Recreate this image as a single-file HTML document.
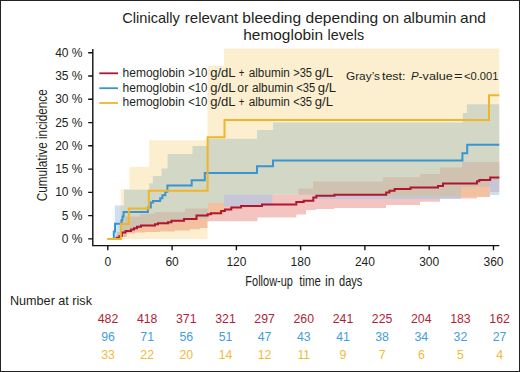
<!DOCTYPE html>
<html><head><meta charset="utf-8"><style>
html,body{margin:0;padding:0;background:#fff;}
svg{display:block;}
</style></head><body>
<svg width="520" height="372" viewBox="0 0 520 372">
<rect x="0" y="0" width="520" height="372" fill="#fff"/>
<path d="M107.8,238.9H116.7V232.0H121.5V222.0H125.0V216.5H140.0V213.8H155.0V212.0H185.0V208.5H208.0V203.0H224.0V194.5H298.5V188.5H313.0V181.5H383.0V177.2H420.0V174.0H440.0V167.5H462.0V162.0H499.3V192.0H490.0V197.0H477.0V198.5H440.0V201.7H420.0V205.0H386.0V208.0H334.0V209.0H316.0V210.0H306.0V214.4H296.3V217.5H257.5V221.3H207.5V228.0H200.0V229.2H190.0V230.5H175.0V231.5H160.0V232.0H145.0V232.5H135.0V233.5H127.0V237.0H121.5V238.9H107.8Z" fill="#dc3c32" fill-opacity="0.30"/>
<path d="M107.8,238.9H114.8V205.6H124.0V189.7H149.2V183.3H152.8V176.0H161.5V168.5H167.6V153.9H192.5V146.0H207.5V138.8H257.0V130.0H273.0V122.4H462.8V113.0H466.9V104.2H499.3V195.0H490.0V187.0H461.0V199.0H313.0V194.5H272.3V206.5H224.0V203.0H208.0V218.5H197.0V220.0H185.0V222.0H170.0V224.5H155.0V226.5H140.0V229.0H133.0V232.0H126.0V236.0H121.4V238.9H107.8Z" fill="#a1c8e8" fill-opacity="0.55"/>
<path d="M107.8,238.9H120.7V189.0H129.4V166.7H149.2V140.3H207.5V65.8H224.0V48.6H499.3V180.0H489.0V197.0H461.0V196.0H330.0V194.5H224.0V215.0H207.5V238.9H107.8Z" fill="#f2b428" fill-opacity="0.22"/>
<path d="M107.8,238.9H116.7V237.8H119.5V236.0H121.8V232.5H125.5V231.0H128.0V231.0H131.0V229.5H134.0V228.2H137.0V226.8H141.0V225.4H155.0V224.2H158.0V223.2H168.0V222.2H171.5V220.8H184.0V219.0H196.5V215.5H207.7V214.3H210.9V213.3H221.1V211.1H224.9V209.5H231.3V207.4H241.0V205.9H250.0V205.9H262.0V204.6H296.3V202.1H303.7V200.7H313.3V197.5H316.4V195.8H334.4V194.8H386.2V192.4H389.4V190.7H394.6V189.0H410.5V187.5H438.0V186.0H443.0V183.6H477.0V181.2H479.3V180.0H490.2V177.5H499.3" fill="none" stroke="#b0172f" stroke-width="2"/>
<path d="M107.8,238.9H113.8V231.6H115.0V223.7H121.4V220.3H122.5V216.4H123.6V211.9H147.9V207.6H150.8V202.5H153.0V201.0H160.2V198.2H162.4V195.3H165.3V191.7H167.4V185.6H191.7V180.2H204.8V172.9H257.0V166.3H273.0V160.5H462.4V153.3H467.2V144.8H499.3" fill="none" stroke="#3a94cf" stroke-width="2"/>
<path d="M107.8,238.9H120.8V224.0H128.8V208.5H148.8V190.8H207.6V137.3H224.5V120.0H489.0V95.2H499.3" fill="none" stroke="#f0b62a" stroke-width="2"/>
<path d="M92.8,49V245.6H499.3" fill="none" stroke="#111" stroke-width="1.4"/>
<path d="M88.2,238.9H92.8M88.2,215.6H92.8M88.2,192.4H92.8M88.2,169.1H92.8M88.2,145.8H92.8M88.2,122.6H92.8M88.2,99.3H92.8M88.2,76.0H92.8M88.2,52.7H92.8M107.8,245.6V250.3M172.1,245.6V250.3M236.4,245.6V250.3M300.6,245.6V250.3M364.9,245.6V250.3M429.2,245.6V250.3M493.5,245.6V250.3" stroke="#111" stroke-width="1.4"/>
<text x="82.5" y="242.8" text-anchor="end" font-size="12" fill="#231f20" font-family="Liberation Sans, sans-serif" >0 %</text>
<text x="82.5" y="219.5" text-anchor="end" font-size="12" fill="#231f20" font-family="Liberation Sans, sans-serif" >5 %</text>
<text x="82.5" y="196.3" text-anchor="end" font-size="12" fill="#231f20" font-family="Liberation Sans, sans-serif" >10 %</text>
<text x="82.5" y="173.0" text-anchor="end" font-size="12" fill="#231f20" font-family="Liberation Sans, sans-serif" >15 %</text>
<text x="82.5" y="149.7" text-anchor="end" font-size="12" fill="#231f20" font-family="Liberation Sans, sans-serif" >20 %</text>
<text x="82.5" y="126.5" text-anchor="end" font-size="12" fill="#231f20" font-family="Liberation Sans, sans-serif" >25 %</text>
<text x="82.5" y="103.2" text-anchor="end" font-size="12" fill="#231f20" font-family="Liberation Sans, sans-serif" >30 %</text>
<text x="82.5" y="79.9" text-anchor="end" font-size="12" fill="#231f20" font-family="Liberation Sans, sans-serif" >35 %</text>
<text x="82.5" y="56.6" text-anchor="end" font-size="12" fill="#231f20" font-family="Liberation Sans, sans-serif" >40 %</text>
<text x="107.8" y="265.8" text-anchor="middle" font-size="12" fill="#231f20" font-family="Liberation Sans, sans-serif" >0</text>
<text x="172.1" y="265.8" text-anchor="middle" font-size="12" fill="#231f20" font-family="Liberation Sans, sans-serif" >60</text>
<text x="236.4" y="265.8" text-anchor="middle" font-size="12" fill="#231f20" font-family="Liberation Sans, sans-serif" >120</text>
<text x="300.6" y="265.8" text-anchor="middle" font-size="12" fill="#231f20" font-family="Liberation Sans, sans-serif" >180</text>
<text x="364.9" y="265.8" text-anchor="middle" font-size="12" fill="#231f20" font-family="Liberation Sans, sans-serif" >240</text>
<text x="429.2" y="265.8" text-anchor="middle" font-size="12" fill="#231f20" font-family="Liberation Sans, sans-serif" >300</text>
<text x="493.5" y="265.8" text-anchor="middle" font-size="12" fill="#231f20" font-family="Liberation Sans, sans-serif" >360</text>
<text x="245.30" y="285.8" font-size="14.5" fill="#231f20" font-family="Liberation Sans, sans-serif"  textLength="47.67" lengthAdjust="spacingAndGlyphs">Follow-up</text>
<text x="299.34" y="285.8" font-size="14.5" fill="#231f20" font-family="Liberation Sans, sans-serif"  textLength="21.66" lengthAdjust="spacingAndGlyphs">time</text>
<text x="324.99" y="285.8" font-size="14.5" fill="#231f20" font-family="Liberation Sans, sans-serif"  textLength="9.61" lengthAdjust="spacingAndGlyphs">in</text>
<text x="339.04" y="285.8" font-size="14.5" fill="#231f20" font-family="Liberation Sans, sans-serif"  textLength="23.37" lengthAdjust="spacingAndGlyphs">days</text>
<text transform="translate(47.4,0) rotate(-90)" x="-201.29" y="0" font-size="15.3" fill="#231f20" font-family="Liberation Sans, sans-serif" textLength="112.12" lengthAdjust="spacingAndGlyphs">Cumulative incidence</text>
<text x="122.27" y="22.5" font-size="15" fill="#231f20" font-family="Liberation Sans, sans-serif"  textLength="57.65" lengthAdjust="spacingAndGlyphs">Clinically</text>
<text x="184.81" y="22.5" font-size="15" fill="#231f20" font-family="Liberation Sans, sans-serif"  textLength="53.41" lengthAdjust="spacingAndGlyphs">relevant</text>
<text x="242.30" y="22.5" font-size="15" fill="#231f20" font-family="Liberation Sans, sans-serif"  textLength="58.88" lengthAdjust="spacingAndGlyphs">bleeding</text>
<text x="305.55" y="22.5" font-size="15" fill="#231f20" font-family="Liberation Sans, sans-serif"  textLength="72.74" lengthAdjust="spacingAndGlyphs">depending</text>
<text x="382.47" y="22.5" font-size="15" fill="#231f20" font-family="Liberation Sans, sans-serif"  textLength="16.59" lengthAdjust="spacingAndGlyphs">on</text>
<text x="403.16" y="22.5" font-size="15" fill="#231f20" font-family="Liberation Sans, sans-serif"  textLength="53.21" lengthAdjust="spacingAndGlyphs">albumin</text>
<text x="460.05" y="22.5" font-size="15" fill="#231f20" font-family="Liberation Sans, sans-serif"  textLength="25.96" lengthAdjust="spacingAndGlyphs">and</text>
<text x="243.22" y="40.2" font-size="15" fill="#231f20" font-family="Liberation Sans, sans-serif"  textLength="79.88" lengthAdjust="spacingAndGlyphs">hemoglobin</text>
<text x="327.53" y="40.2" font-size="15" fill="#231f20" font-family="Liberation Sans, sans-serif"  textLength="36.60" lengthAdjust="spacingAndGlyphs">levels</text>
<path d="M99.3,73.3H118" stroke="#b0172f" stroke-width="1.8"/>
<text x="122.56" y="76.8" font-size="12" fill="#231f20" font-family="Liberation Sans, sans-serif"  textLength="62.11" lengthAdjust="spacingAndGlyphs">hemoglobin</text>
<text x="188.13" y="76.8" font-size="12" fill="#231f20" font-family="Liberation Sans, sans-serif"  textLength="19.20" lengthAdjust="spacingAndGlyphs">&gt;10</text>
<text x="210.15" y="76.8" font-size="12" fill="#231f20" font-family="Liberation Sans, sans-serif"  textLength="25.47" lengthAdjust="spacingAndGlyphs">g/dL</text>
<text x="238.74" y="76.8" font-size="12" fill="#231f20" font-family="Liberation Sans, sans-serif"  textLength="5.65" lengthAdjust="spacingAndGlyphs">+</text>
<text x="248.71" y="76.8" font-size="12" fill="#231f20" font-family="Liberation Sans, sans-serif"  textLength="41.14" lengthAdjust="spacingAndGlyphs">albumin</text>
<text x="293.14" y="76.8" font-size="12" fill="#231f20" font-family="Liberation Sans, sans-serif"  textLength="18.93" lengthAdjust="spacingAndGlyphs">&gt;35</text>
<text x="314.75" y="76.8" font-size="12" fill="#231f20" font-family="Liberation Sans, sans-serif"  textLength="18.27" lengthAdjust="spacingAndGlyphs">g/L</text>
<path d="M99.3,88.2H118" stroke="#3a94cf" stroke-width="1.8"/>
<text x="122.56" y="91.6" font-size="12" fill="#231f20" font-family="Liberation Sans, sans-serif"  textLength="62.11" lengthAdjust="spacingAndGlyphs">hemoglobin</text>
<text x="188.13" y="91.6" font-size="12" fill="#231f20" font-family="Liberation Sans, sans-serif"  textLength="19.20" lengthAdjust="spacingAndGlyphs">&lt;10</text>
<text x="210.15" y="91.6" font-size="12" fill="#231f20" font-family="Liberation Sans, sans-serif"  textLength="25.47" lengthAdjust="spacingAndGlyphs">g/dL</text>
<text x="237.39" y="91.6" font-size="12" fill="#231f20" font-family="Liberation Sans, sans-serif"  textLength="10.82" lengthAdjust="spacingAndGlyphs">or</text>
<text x="251.90" y="91.6" font-size="12" fill="#231f20" font-family="Liberation Sans, sans-serif"  textLength="41.35" lengthAdjust="spacingAndGlyphs">albumin</text>
<text x="296.24" y="91.6" font-size="12" fill="#231f20" font-family="Liberation Sans, sans-serif"  textLength="18.93" lengthAdjust="spacingAndGlyphs">&lt;35</text>
<text x="317.85" y="91.6" font-size="12" fill="#231f20" font-family="Liberation Sans, sans-serif"  textLength="18.27" lengthAdjust="spacingAndGlyphs">g/L</text>
<path d="M99.3,103.0H118" stroke="#f0b62a" stroke-width="1.8"/>
<text x="122.56" y="106.2" font-size="12" fill="#231f20" font-family="Liberation Sans, sans-serif"  textLength="62.11" lengthAdjust="spacingAndGlyphs">hemoglobin</text>
<text x="188.13" y="106.2" font-size="12" fill="#231f20" font-family="Liberation Sans, sans-serif"  textLength="19.20" lengthAdjust="spacingAndGlyphs">&lt;10</text>
<text x="210.15" y="106.2" font-size="12" fill="#231f20" font-family="Liberation Sans, sans-serif"  textLength="25.47" lengthAdjust="spacingAndGlyphs">g/dL</text>
<text x="238.74" y="106.2" font-size="12" fill="#231f20" font-family="Liberation Sans, sans-serif"  textLength="5.65" lengthAdjust="spacingAndGlyphs">+</text>
<text x="248.71" y="106.2" font-size="12" fill="#231f20" font-family="Liberation Sans, sans-serif"  textLength="41.14" lengthAdjust="spacingAndGlyphs">albumin</text>
<text x="293.14" y="106.2" font-size="12" fill="#231f20" font-family="Liberation Sans, sans-serif"  textLength="18.93" lengthAdjust="spacingAndGlyphs">&lt;35</text>
<text x="314.75" y="106.2" font-size="12" fill="#231f20" font-family="Liberation Sans, sans-serif"  textLength="18.27" lengthAdjust="spacingAndGlyphs">g/L</text>
<text x="345.91" y="79.5" font-size="11.5" fill="#231f20" font-family="Liberation Sans, sans-serif"  textLength="34.11" lengthAdjust="spacingAndGlyphs">Gray’s</text>
<text x="381.93" y="79.5" font-size="11.5" fill="#231f20" font-family="Liberation Sans, sans-serif"  textLength="23.62" lengthAdjust="spacingAndGlyphs">test:</text>
<text x="411.0" y="79.5" font-size="11.5" font-style="italic" fill="#231f20" font-family="Liberation Sans, sans-serif" >P</text>
<text x="418.45" y="79.5" font-size="11.5" fill="#231f20" font-family="Liberation Sans, sans-serif"  textLength="34.20" lengthAdjust="spacingAndGlyphs">-value</text>
<text x="453.90" y="79.5" font-size="11.5" fill="#231f20" font-family="Liberation Sans, sans-serif"  textLength="8.53" lengthAdjust="spacingAndGlyphs">=</text>
<text x="464.04" y="79.5" font-size="11.5" fill="#231f20" font-family="Liberation Sans, sans-serif"  textLength="34.40" lengthAdjust="spacingAndGlyphs">&lt;0.001</text>
<text x="9.97" y="304.5" font-size="12.2" fill="#231f20" font-family="Liberation Sans, sans-serif"  textLength="82.03" lengthAdjust="spacingAndGlyphs">Number at risk</text>
<text x="108.0" y="322.5" text-anchor="middle" font-size="12.3" fill="#b01f3a" font-family="Liberation Sans, sans-serif">482</text>
<text x="147.2" y="322.5" text-anchor="middle" font-size="12.3" fill="#b01f3a" font-family="Liberation Sans, sans-serif">418</text>
<text x="186.3" y="322.5" text-anchor="middle" font-size="12.3" fill="#b01f3a" font-family="Liberation Sans, sans-serif">371</text>
<text x="225.5" y="322.5" text-anchor="middle" font-size="12.3" fill="#b01f3a" font-family="Liberation Sans, sans-serif">321</text>
<text x="264.6" y="322.5" text-anchor="middle" font-size="12.3" fill="#b01f3a" font-family="Liberation Sans, sans-serif">297</text>
<text x="303.8" y="322.5" text-anchor="middle" font-size="12.3" fill="#b01f3a" font-family="Liberation Sans, sans-serif">260</text>
<text x="343.0" y="322.5" text-anchor="middle" font-size="12.3" fill="#b01f3a" font-family="Liberation Sans, sans-serif">241</text>
<text x="382.1" y="322.5" text-anchor="middle" font-size="12.3" fill="#b01f3a" font-family="Liberation Sans, sans-serif">225</text>
<text x="421.3" y="322.5" text-anchor="middle" font-size="12.3" fill="#b01f3a" font-family="Liberation Sans, sans-serif">204</text>
<text x="460.4" y="322.5" text-anchor="middle" font-size="12.3" fill="#b01f3a" font-family="Liberation Sans, sans-serif">183</text>
<text x="499.6" y="322.5" text-anchor="middle" font-size="12.3" fill="#b01f3a" font-family="Liberation Sans, sans-serif">162</text>
<text x="108.0" y="340.5" text-anchor="middle" font-size="12.3" fill="#43a0d6" font-family="Liberation Sans, sans-serif">96</text>
<text x="147.2" y="340.5" text-anchor="middle" font-size="12.3" fill="#43a0d6" font-family="Liberation Sans, sans-serif">71</text>
<text x="186.3" y="340.5" text-anchor="middle" font-size="12.3" fill="#43a0d6" font-family="Liberation Sans, sans-serif">56</text>
<text x="225.5" y="340.5" text-anchor="middle" font-size="12.3" fill="#43a0d6" font-family="Liberation Sans, sans-serif">51</text>
<text x="264.6" y="340.5" text-anchor="middle" font-size="12.3" fill="#43a0d6" font-family="Liberation Sans, sans-serif">47</text>
<text x="303.8" y="340.5" text-anchor="middle" font-size="12.3" fill="#43a0d6" font-family="Liberation Sans, sans-serif">43</text>
<text x="343.0" y="340.5" text-anchor="middle" font-size="12.3" fill="#43a0d6" font-family="Liberation Sans, sans-serif">41</text>
<text x="382.1" y="340.5" text-anchor="middle" font-size="12.3" fill="#43a0d6" font-family="Liberation Sans, sans-serif">38</text>
<text x="421.3" y="340.5" text-anchor="middle" font-size="12.3" fill="#43a0d6" font-family="Liberation Sans, sans-serif">34</text>
<text x="460.4" y="340.5" text-anchor="middle" font-size="12.3" fill="#43a0d6" font-family="Liberation Sans, sans-serif">32</text>
<text x="499.6" y="340.5" text-anchor="middle" font-size="12.3" fill="#43a0d6" font-family="Liberation Sans, sans-serif">27</text>
<text x="108.0" y="358.7" text-anchor="middle" font-size="12.3" fill="#f2b93a" font-family="Liberation Sans, sans-serif">33</text>
<text x="147.2" y="358.7" text-anchor="middle" font-size="12.3" fill="#f2b93a" font-family="Liberation Sans, sans-serif">22</text>
<text x="186.3" y="358.7" text-anchor="middle" font-size="12.3" fill="#f2b93a" font-family="Liberation Sans, sans-serif">20</text>
<text x="225.5" y="358.7" text-anchor="middle" font-size="12.3" fill="#f2b93a" font-family="Liberation Sans, sans-serif">14</text>
<text x="264.6" y="358.7" text-anchor="middle" font-size="12.3" fill="#f2b93a" font-family="Liberation Sans, sans-serif">12</text>
<text x="303.8" y="358.7" text-anchor="middle" font-size="12.3" fill="#f2b93a" font-family="Liberation Sans, sans-serif">11</text>
<text x="343.0" y="358.7" text-anchor="middle" font-size="12.3" fill="#f2b93a" font-family="Liberation Sans, sans-serif">9</text>
<text x="382.1" y="358.7" text-anchor="middle" font-size="12.3" fill="#f2b93a" font-family="Liberation Sans, sans-serif">7</text>
<text x="421.3" y="358.7" text-anchor="middle" font-size="12.3" fill="#f2b93a" font-family="Liberation Sans, sans-serif">6</text>
<text x="460.4" y="358.7" text-anchor="middle" font-size="12.3" fill="#f2b93a" font-family="Liberation Sans, sans-serif">5</text>
<text x="499.6" y="358.7" text-anchor="middle" font-size="12.3" fill="#f2b93a" font-family="Liberation Sans, sans-serif">4</text>
<rect x="0.5" y="0.5" width="519" height="371" fill="none" stroke="#222" stroke-width="1"/>
</svg>
</body></html>
